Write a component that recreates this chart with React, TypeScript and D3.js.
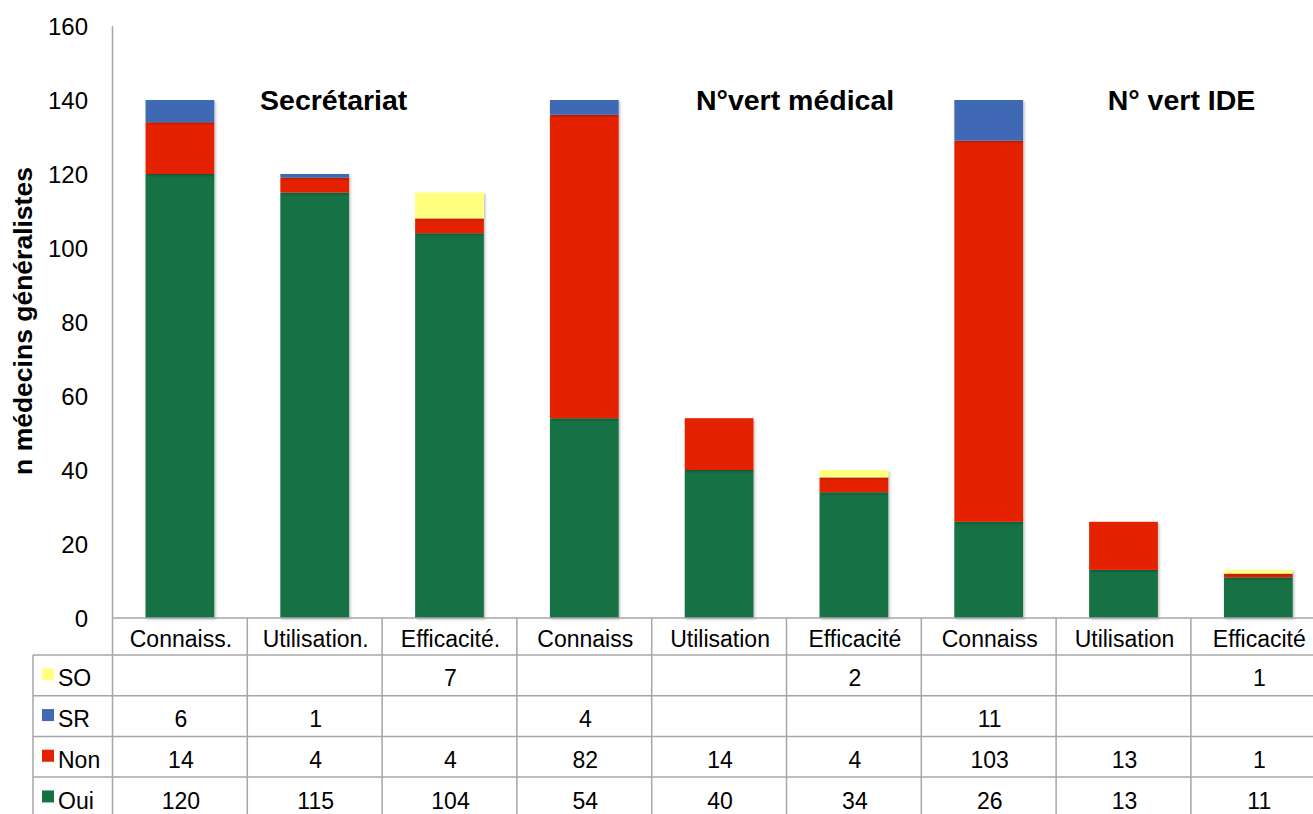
import React from "react";
import * as d3 from "d3";

const categories = [
  "Connaiss.", "Utilisation.", "Efficacité.",
  "Connaiss", "Utilisation", "Efficacité",
  "Connaiss", "Utilisation", "Efficacité",
];
const oui = [120, 115, 104, 54, 40, 34, 26, 13, 11];
const non = [14, 4, 4, 82, 14, 4, 103, 13, 1];
const sr = [6, 1, null, 4, null, null, 11, null, null];
const so = [null, null, 7, null, null, 2, null, null, 1];
const yTicks = [0, 20, 40, 60, 80, 100, 120, 140, 160];
const groupLabels = ["Secrétariat", "N°vert médical", "N° vert IDE"];

const seriesNames = ["Oui", "Non", "SR", "SO"];
const seriesValues = [oui, non, sr, so];
const seriesColors = ["#157145", "#e52200", "#4169b5", "#ffff80"];
const tableOrder = [3, 2, 1, 0];

const W = 1313;
const H = 814;
const plotLeft = 112.5;
const colWidth = 134.8;
const plotRight = plotLeft + colWidth * categories.length; // runs past the right edge
const plotTop = 26;
const plotBottom = 618;
const rowH = 40.7;
const headerBottom = 655;
const legendLeft = 33;
const font = "Liberation Sans, Arial, Helvetica, sans-serif";
const gridColor = "#a6a6a6";
const tableFont = 23;

export default function App() {
  const x = d3.scaleBand<number>()
    .domain(d3.range(categories.length))
    .range([plotLeft, plotRight])
    .paddingInner(0.49)
    .paddingOuter(0.245);
  const col = d3.scaleBand<number>()
    .domain(d3.range(categories.length))
    .range([plotLeft, plotRight]);
  const y = d3.scaleLinear().domain([0, 160]).range([plotBottom, plotTop]);

  const rows = categories.map((_, i) => {
    const r: Record<string, number> = { idx: i };
    seriesNames.forEach((n, s) => (r[n] = seriesValues[s][i] ?? 0));
    return r;
  });
  const stacked = d3.stack<Record<string, number>>().keys(seriesNames)(rows);

  const mid = (i: number) => col(i)! + col.bandwidth() / 2;
  // group titles sit to the right of each group's first bar
  const groupLabelX = [mid(1) + 19, mid(4) + 76, mid(7) + 58];

  return (
    <svg width={W} height={H} style={{ position: "absolute", left: 0, top: 0, background: "#fff" }}>
      <defs>
        <filter id="shadow" x="-10%" y="-10%" width="130%" height="130%">
          <feDropShadow dx="1.5" dy="1.5" stdDeviation="1.2" floodColor="#000" floodOpacity="0.25" />
        </filter>
      </defs>

      {/* y axis ticks */}
      {yTicks.map((t) => (
        <text key={t} x={88} y={y(t) + 1} dy="0.35em" textAnchor="end" fontFamily={font} fontSize={24} fill="#000">
          {t}
        </text>
      ))}
      <line x1={plotLeft} x2={plotLeft} y1={plotTop} y2={plotBottom} stroke={gridColor} strokeWidth={1.5} />
      <text
        transform={`translate(32,${321}) rotate(-90)`}
        textAnchor="middle" fontFamily={font} fontWeight="bold" fontSize={26.5} fill="#000"
      >
        n médecins généralistes
      </text>

      {/* stacked bars */}
      {stacked.map((layer, s) => (
        <g key={layer.key} filter="url(#shadow)">
          {layer.map((d, i) =>
            d[1] - d[0] > 0 ? (
              <rect key={i} x={x(i)} width={x.bandwidth()} y={y(d[1])} height={y(d[0]) - y(d[1])} fill={seriesColors[s]} />
            ) : null
          )}
        </g>
      ))}

      {/* group titles */}
      {groupLabels.map((g, i) => (
        <text key={g} x={groupLabelX[i]} y={100} dy="0.35em" textAnchor="middle" fontFamily={font} fontWeight="bold" fontSize={28.5} fill="#000">
          {g}
        </text>
      ))}

      {/* data table */}
      <g stroke={gridColor} strokeWidth={1.5}>
        <line x1={plotLeft} x2={plotRight} y1={plotBottom} y2={plotBottom} />
        {d3.range(tableOrder.length + 1).map((r) => (
          <line key={r} x1={legendLeft} x2={plotRight} y1={headerBottom + r * rowH} y2={headerBottom + r * rowH} />
        ))}
        <line x1={legendLeft} x2={legendLeft} y1={headerBottom} y2={H} />
        {d3.range(categories.length + 1).map((i) => {
          const xx = i < categories.length ? col(i)! : plotRight;
          return <line key={i} x1={xx} x2={xx} y1={plotBottom} y2={H} />;
        })}
      </g>
      {categories.map((c, i) => (
        <text key={i} x={mid(i) + 1} y={(plotBottom + headerBottom) / 2 + 2} dy="0.35em"
          textAnchor="middle" fontFamily={font} fontSize={tableFont} fill="#000">
          {c}
        </text>
      ))}
      {tableOrder.map((s, r) => {
        const rc = headerBottom + r * rowH + rowH / 2;
        const cy = rc + 3;
        return (
          <g key={seriesNames[s]}>
            <rect x={42} y={rc - 7} width={12} height={12} fill={seriesColors[s]} />
            <text x={58} y={cy} dy="0.35em" fontFamily={font} fontSize={tableFont} fill="#000">
              {seriesNames[s]}
            </text>
            {seriesValues[s].map((v, i) =>
              v == null ? null : (
                <text key={i} x={mid(i) + 1} y={cy} dy="0.35em" textAnchor="middle"
                  fontFamily={font} fontSize={tableFont} fill="#000">
                  {v}
                </text>
              )
            )}
          </g>
        );
      })}
    </svg>
  );
}
